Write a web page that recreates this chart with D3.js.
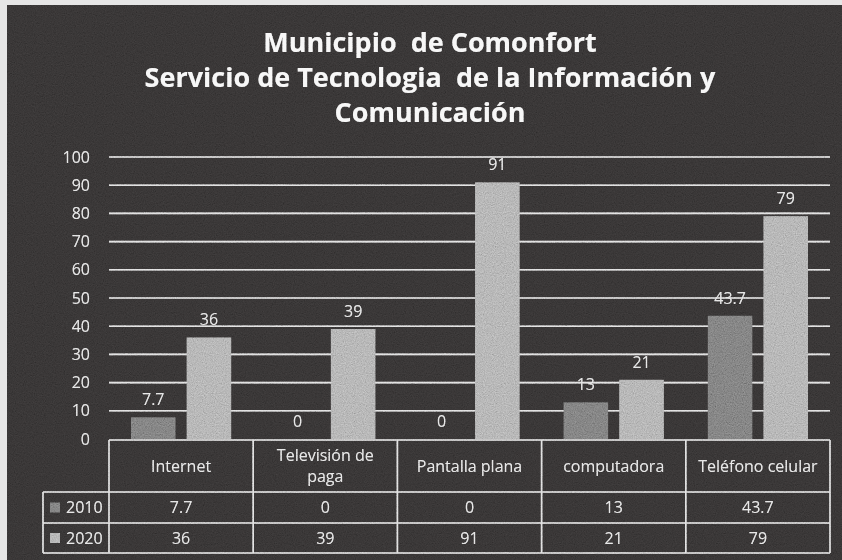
<!DOCTYPE html>
<html>
<head>
<meta charset="utf-8">
<script src="https://cdn.jsdelivr.net/npm/d3@7"></script>
<style>
  html, body { margin: 0; padding: 0; background: #e6e6e6; }
  svg { display: block; }
  text { font-family: "Open Sans", "Noto Sans", sans-serif; }
</style>
</head>
<body>
<div id="chart"></div>
<script>
// --- DATA --- \\
var categories = ["Internet", "Televisión de\npaga", "Pantalla plana", "computadora", "Teléfono celular"];
var seriesNames = ["2010", "2020"];
var values2010 = [7.7, 0, 0, 13, 43.7];
var values2020 = [36, 39, 91, 21, 79];
var yTicks = [0, 10, 20, 30, 40, 50, 60, 70, 80, 90, 100];
var titleLines = ["Municipio  de Comonfort", "Servicio de Tecnologia  de la Información y", "Comunicación"];

var seriesValues = [values2010, values2020];
var seriesColors = ["#666666", "#979797"];

var width = 842, height = 560
	, plotLeft = 109, plotRight = 830
	, plotTop = 157, plotBottom = 439
	, textColor = "#dcdcdc", lineColor = "#d4d4d4"
	, fontSize = 16;

var svg = d3.select("#chart").append("svg")
	.attr("width", width)
	.attr("height", height);

// grain filter, the reference looks like a noisy scan
var defs = svg.append("defs");
var grain = defs.append("filter").attr("id", "grain")
	.attr("x", 0).attr("y", 0).attr("width", "100%").attr("height", "100%");
grain.append("feTurbulence")
	.attr("type", "fractalNoise")
	.attr("baseFrequency", 0.9)
	.attr("numOctaves", 2)
	.attr("seed", 4);
grain.append("feColorMatrix")
	.attr("type", "matrix")
	.attr("values", "0.33 0.33 0.33 0 0  0.33 0.33 0.33 0 0  0.33 0.33 0.33 0 0  0 0 0 0 1");

// --- Background --- \\
svg.append("rect")
	.attr("width", width).attr("height", height)
	.attr("fill", "#e6e6e6");
svg.append("rect")
	.attr("x", 7).attr("y", 5)
	.attr("width", width - 7).attr("height", height - 5)
	.attr("fill", "#2c2a2a");

// --- Scales --- \\
var y = d3.scaleLinear().domain([0, 100]).range([plotBottom, plotTop]);
var x0 = d3.scaleBand().domain(categories).range([plotLeft, plotRight]).padding(0);
var x1 = d3.scaleBand().domain(seriesNames)
	.range([22, x0.bandwidth() - 22])
	.paddingInner(0.2);

// --- Title --- \\
svg.append("text")
	.attr("x", 430)
	.attr("text-anchor", "middle")
	.attr("fill", "#f4f4f4")
	.attr("font-size", 27)
	.attr("font-weight", "bold")
	.style("white-space", "pre")
	.selectAll("tspan")
	.data(titleLines)
	.enter().append("tspan")
	.attr("x", 430)
	.attr("y", function (d, i) { return 52 + i * 35; })
	.text(function (d) { return d; });

// --- Gridlines + y labels --- \\
svg.append("g").selectAll("line")
	.data(yTicks.filter(function (t) { return t > 0; }))
	.enter().append("line")
	.attr("x1", plotLeft).attr("x2", plotRight)
	.attr("y1", function (d) { return y(d); })
	.attr("y2", function (d) { return y(d); })
	.attr("stroke", lineColor)
	.attr("stroke-width", 1.6);

svg.append("g").selectAll("text")
	.data(yTicks)
	.enter().append("text")
	.attr("x", 90)
	.attr("y", function (d) { return y(d); })
	.attr("dy", "0.35em")
	.attr("text-anchor", "end")
	.attr("fill", textColor)
	.attr("font-size", fontSize)
	.text(function (d) { return d; });

// --- Bars --- \\
var groups = svg.append("g").selectAll("g")
	.data(categories)
	.enter().append("g")
	.attr("transform", function (d) { return "translate(" + x0(d) + ",0)"; });

groups.selectAll("rect")
	.data(function (d, i) {
		return seriesNames.map(function (s, j) { return { s: s, j: j, v: seriesValues[j][i] }; });
	})
	.enter().append("rect")
	.attr("x", function (d) { return x1(d.s); })
	.attr("y", function (d) { return y(d.v); })
	.attr("width", x1.bandwidth())
	.attr("height", function (d) { return y(0) - y(d.v); })
	.attr("fill", function (d) { return seriesColors[d.j]; });

groups.selectAll("text.val")
	.data(function (d, i) {
		return seriesNames.map(function (s, j) { return { s: s, j: j, v: seriesValues[j][i] }; });
	})
	.enter().append("text")
	.attr("class", "val")
	.attr("x", function (d) { return x1(d.s) + x1.bandwidth() / 2; })
	.attr("y", function (d) { return y(d.v) - 12; })
	.attr("text-anchor", "middle")
	.attr("fill", textColor)
	.attr("font-size", fontSize)
	.text(function (d) { return d.v; });

// --- Data table --- \\
var legendLeft = 43
	, headTop = 440, row1Top = 492, row2Top = 523, tableBottom = 553
	, headLineGap = 21;
var table = svg.append("g")
	.attr("stroke", lineColor)
	.attr("stroke-width", 1.6)
	.attr("fill", "none");

// horizontal lines
table.append("line").attr("x1", plotLeft).attr("x2", plotRight).attr("y1", headTop).attr("y2", headTop);
[row1Top, row2Top, tableBottom].forEach(function (yy) {
	table.append("line").attr("x1", legendLeft).attr("x2", plotRight).attr("y1", yy).attr("y2", yy);
});
// vertical lines
table.append("line").attr("x1", legendLeft).attr("x2", legendLeft).attr("y1", row1Top).attr("y2", tableBottom);
categories.forEach(function (c) {
	table.append("line").attr("x1", x0(c)).attr("x2", x0(c)).attr("y1", headTop).attr("y2", tableBottom);
});
table.append("line").attr("x1", plotRight).attr("x2", plotRight).attr("y1", headTop).attr("y2", tableBottom);

// header text (one text element per line so they do not overlap)
var headLines = [];
categories.forEach(function (c) {
	var lines = c.split("\n");
	lines.forEach(function (l, k) {
		headLines.push({ cat: c, text: l, k: k, n: lines.length });
	});
});
svg.append("g").selectAll("text")
	.data(headLines)
	.enter().append("text")
	.attr("x", function (d) { return x0(d.cat) + x0.bandwidth() / 2; })
	.attr("y", function (d) {
		return (headTop + row1Top) / 2 - (d.n - 1) * headLineGap / 2 + d.k * headLineGap;
	})
	.attr("dy", "0.35em")
	.attr("text-anchor", "middle")
	.attr("fill", textColor)
	.attr("font-size", fontSize)
	.text(function (d) { return d.text; });

// value rows
var rowTops = [row1Top, row2Top];
seriesNames.forEach(function (s, j) {
	var cy = (rowTops[j] + (j === 0 ? row2Top : tableBottom)) / 2;
	svg.append("rect")
		.attr("x", 50).attr("y", cy - 5)
		.attr("width", 10).attr("height", 10)
		.attr("fill", seriesColors[j]);
	svg.append("text")
		.attr("x", 66).attr("y", cy).attr("dy", "0.35em")
		.attr("fill", textColor)
		.attr("font-size", fontSize)
		.text(s);
	svg.append("g").selectAll("text")
		.data(seriesValues[j])
		.enter().append("text")
		.attr("x", function (v, i) { return x0(categories[i]) + x0.bandwidth() / 2; })
		.attr("y", cy).attr("dy", "0.35em")
		.attr("text-anchor", "middle")
		.attr("fill", textColor)
		.attr("font-size", fontSize)
		.text(function (v) { return v; });
});

// grain overlay on top of everything
svg.append("rect")
	.attr("x", 7).attr("y", 5)
	.attr("width", width - 7).attr("height", height - 5)
	.attr("filter", "url(#grain)")
	.style("mix-blend-mode", "overlay")
	.attr("opacity", 0.7);
</script>
</body>
</html>
